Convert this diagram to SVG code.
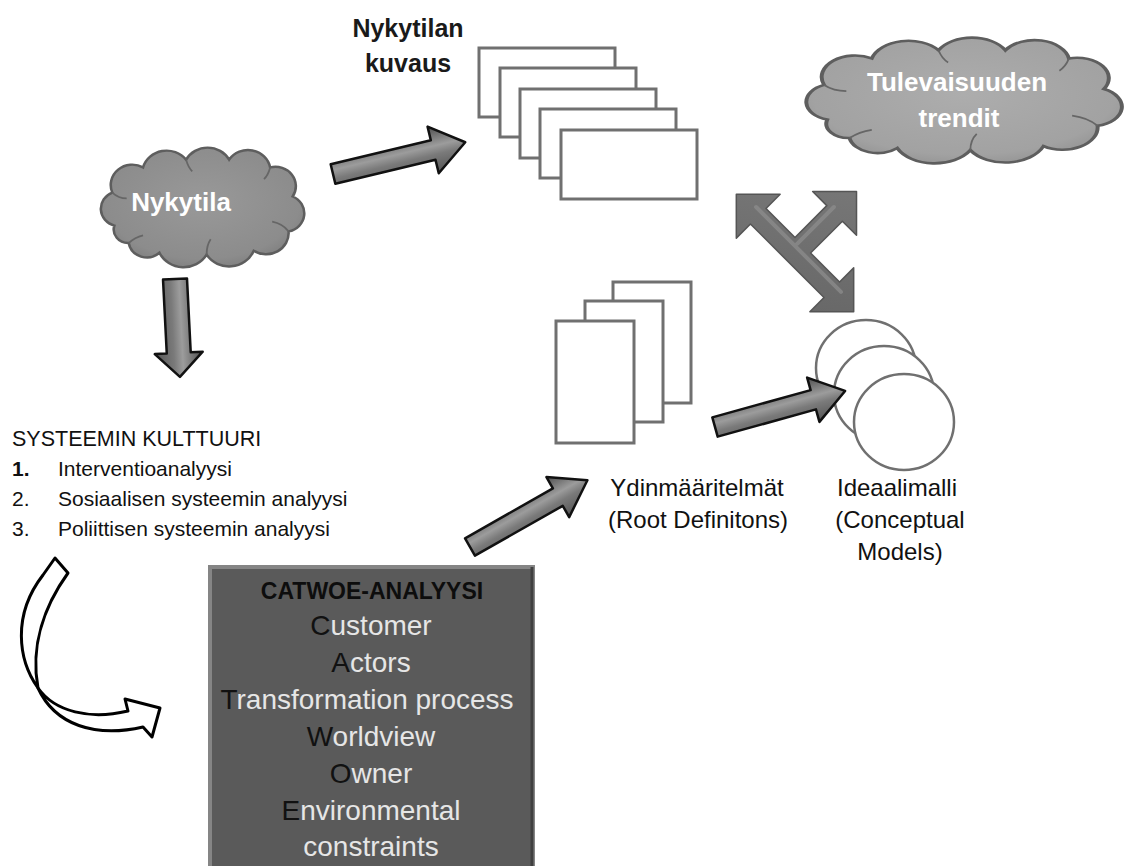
<svg xmlns="http://www.w3.org/2000/svg" width="1126" height="866" viewBox="0 0 1126 866">
  <defs>
    <style>
      .t { font-family: "Liberation Sans", Arial, sans-serif; }
      .b { font-weight: bold; }
      .page { fill: #ffffff; stroke: #707070; stroke-width: 3; }
      .disc { fill: #ffffff; stroke: #707070; stroke-width: 2.5; }
      .fat { fill: url(#fatGrad); stroke: #111111; stroke-width: 2.5; stroke-linejoin: round; }
      .cloud { stroke: #5e5e5e; stroke-width: 2.5; vector-effect: non-scaling-stroke; }
      .crease { fill: none; stroke: #666666; stroke-width: 1.8; vector-effect: non-scaling-stroke; }
      .ribbon { fill: #ffffff; stroke: #000000; stroke-width: 3; stroke-linejoin: round; }
      .lbl { font-size: 24px; fill: #111111; }
      .cw { font-size: 28px; fill: #e6e6e6; }
      .cw tspan.k { fill: #111111; }
    </style>
    <linearGradient id="fatGrad" x1="0" y1="0" x2="0" y2="1">
      <stop offset="0" stop-color="#4e4e4e"/>
      <stop offset="0.42" stop-color="#9c9c9c"/>
      <stop offset="0.6" stop-color="#7a7a7a"/>
      <stop offset="1" stop-color="#555555"/>
    </linearGradient>
    <radialGradient id="cloudDark" cx="0.5" cy="0.45" r="0.6">
      <stop offset="0" stop-color="#999999"/>
      <stop offset="0.8" stop-color="#8c8c8c"/>
      <stop offset="1" stop-color="#7c7c7c"/>
    </radialGradient>
    <radialGradient id="cloudLight" cx="0.5" cy="0.45" r="0.6">
      <stop offset="0" stop-color="#adadad"/>
      <stop offset="0.8" stop-color="#a2a2a2"/>
      <stop offset="1" stop-color="#919191"/>
    </radialGradient>
    <linearGradient id="xGrad" x1="0" y1="0" x2="1" y2="1">
      <stop offset="0" stop-color="#7c7c7c"/>
      <stop offset="1" stop-color="#666666"/>
    </linearGradient>
    <path id="cloudShape" d="M14,80 A18,18 0 0 1 12,46 A21,21 0 0 1 42,20 A24,24 0 0 1 84,12 A24,24 0 0 1 126,12 A22,22 0 0 1 166,20 A20,20 0 0 1 188,50 A19,19 0 0 1 184,86 A22,22 0 0 1 150,106 A26,26 0 0 1 104,110 A26,26 0 0 1 58,108 A18,18 0 0 1 28,98 A14,14 0 0 1 14,80 Z"/>
    <g id="cloudCreases">
      <path class="crease" d="M12,46 Q18,52 26,52"/>
      <path class="crease" d="M84,12 Q86,20 90,24"/>
      <path class="crease" d="M166,20 Q164,28 160,32"/>
      <path class="crease" d="M184,86 Q178,78 168,76"/>
      <path class="crease" d="M104,110 Q104,100 108,94"/>
      <path class="crease" d="M28,98 Q34,92 42,90"/>
    </g>
  </defs>

  <rect width="1126" height="866" fill="#ffffff"/>

  <!-- current state cloud -->
  <g id="nykytila">
    <g transform="translate(100,148) scale(1.025,0.97)">
      <use href="#cloudShape" class="cloud" fill="url(#cloudDark)"/>
      <use href="#cloudCreases"/>
    </g>
    <text class="t b" x="181" y="211" font-size="26" fill="#ffffff" text-anchor="middle">Nykytila</text>
  </g>

  <!-- future trends cloud -->
  <g id="tulevaisuuden-trendit">
    <g transform="translate(805,38) scale(1.59,1.02)">
      <use href="#cloudShape" class="cloud" fill="url(#cloudLight)"/>
      <use href="#cloudCreases"/>
    </g>
    <text class="t b" x="957" y="91" font-size="26" fill="#ffffff" text-anchor="middle">Tulevaisuuden</text>
    <text class="t b" x="959" y="127" font-size="26" fill="#ffffff" text-anchor="middle">trendit</text>
  </g>

  <!-- description of the current state: stacked sheets -->
  <g id="nykytilan-kuvaus">
    <text class="t b" x="408" y="37" font-size="25" fill="#1a1a1a" text-anchor="middle">Nykytilan</text>
    <text class="t b" x="408" y="72" font-size="25" fill="#1a1a1a" text-anchor="middle">kuvaus</text>
    <rect class="page" x="479" y="48" width="136" height="69"/>
    <rect class="page" x="500" y="68" width="136" height="69"/>
    <rect class="page" x="520" y="89" width="136" height="69"/>
    <rect class="page" x="540" y="109" width="136" height="69"/>
    <rect class="page" x="561" y="130" width="136" height="69"/>
  </g>

  <!-- culture of the system -->
  <g id="systeemin-kulttuuri" class="t" fill="#111111">
    <text x="12" y="446" font-size="21.5">SYSTEEMIN KULTTUURI</text>
    <text x="12" y="476" font-size="21" class="b">1.</text>
    <text x="58" y="476" font-size="21">Interventioanalyysi</text>
    <text x="12" y="506" font-size="21">2.</text>
    <text x="58" y="506" font-size="21">Sosiaalisen systeemin analyysi</text>
    <text x="12" y="536" font-size="21">3.</text>
    <text x="58" y="536" font-size="21">Poliittisen systeemin analyysi</text>
  </g>

  <!-- CATWOE box -->
  <g id="catwoe">
    <rect x="210" y="567" width="323" height="303" fill="#5a5a5a" stroke="#858585" stroke-width="4"/>
    <line x1="532" y1="567" x2="532" y2="866" stroke="#404040" stroke-width="3"/>
    <text class="t b" x="372" y="599" font-size="23" fill="#0d0d0d" text-anchor="middle">CATWOE-ANALYYSI</text>
    <text class="t cw" x="371" y="635" text-anchor="middle"><tspan class="k">C</tspan>ustomer</text>
    <text class="t cw" x="371" y="672" text-anchor="middle"><tspan class="k">A</tspan>ctors</text>
    <text class="t cw" x="367" y="709" text-anchor="middle"><tspan class="k">T</tspan>ransformation process</text>
    <text class="t cw" x="371" y="746" text-anchor="middle"><tspan class="k">W</tspan>orldview</text>
    <text class="t cw" x="371" y="783" text-anchor="middle"><tspan class="k">O</tspan>wner</text>
    <text class="t cw" x="371" y="820" text-anchor="middle"><tspan class="k">E</tspan>nvironmental</text>
    <text class="t cw" x="371" y="856" text-anchor="middle">constraints</text>
  </g>

  <!-- root definitions: stacked portrait sheets -->
  <g id="ydinmaaritelmat">
    <rect class="page" x="613" y="282" width="78" height="121"/>
    <rect class="page" x="585" y="301" width="78" height="121"/>
    <rect class="page" x="556" y="321" width="78" height="122"/>
    <text class="t lbl" x="697" y="496" text-anchor="middle">Ydinmääritelmät</text>
    <text class="t lbl" x="698" y="528" text-anchor="middle">(Root Definitons)</text>
  </g>

  <!-- conceptual models: overlapping discs -->
  <g id="ideaalimalli">
    <ellipse class="disc" cx="866" cy="368" rx="50" ry="48"/>
    <ellipse class="disc" cx="884" cy="394" rx="50" ry="48"/>
    <ellipse class="disc" cx="904" cy="422" rx="50" ry="48"/>
    <text class="t lbl" x="897" y="496" text-anchor="middle">Ideaalimalli</text>
    <text class="t lbl" x="900" y="528" text-anchor="middle">(Conceptual</text>
    <text class="t lbl" x="900" y="560" text-anchor="middle">Models)</text>
  </g>

  <!-- connectors -->
  <g id="connectors">
    <!-- Nykytila -> Nykytilan kuvaus -->
    <path class="fat" transform="translate(333,174) rotate(-13.5)" d="M0,-10 L103,-10 L103,-24 L136,0 L103,24 L103,10 L0,10 Z"/>
    <!-- Nykytila -> systeemin kulttuuri -->
    <path class="fat" transform="translate(175,279) rotate(87.1)" d="M0,-12 L74,-12 L74,-24 L98,0 L74,24 L74,12 L0,12 Z"/>
    <!-- CATWOE -> root definitions -->
    <path class="fat" transform="translate(470,547) rotate(-29.6)" d="M0,-10 L101,-10 L101,-23 L135,0 L101,23 L101,10 L0,10 Z"/>
    <!-- root definitions -> conceptual models -->
    <path class="fat" transform="translate(715,427) rotate(-15.5)" d="M0,-10 L102,-10 L102,-23 L135,0 L102,23 L102,10 L0,10 Z"/>
    <!-- three-way arrow between kuvaus, trends and models -->
    <g transform="translate(795,253) rotate(45)">
      <path d="M-83,0 L-52,-31 L-52,-11 L-11,-11 L-11,-56 L-31,-56 L0,-87 L31,-56 L11,-56 L11,-11 L52,-11 L52,-31 L83,0 L52,31 L52,11 L-52,11 L-52,31 Z" fill="url(#xGrad)" stroke="#555555" stroke-width="1.5" stroke-linejoin="round"/>
      <path d="M-60,-5 L60,-5 M-5,-60 L-5,-8" stroke="#8e8e8e" stroke-width="4" stroke-linecap="round" opacity="0.7" fill="none"/>
    </g>
    <!-- curved ribbon arrow: culture -> CATWOE -->
    <path class="ribbon" d="M55,558 L68,573 C45,605 30,645 38,688 C18,660 12,615 43,575 Z"/>
    <path class="ribbon" d="M38,688 C55,712 90,720 128,711 L125,699 L160,708 L152,737 L143,727 C95,738 55,725 38,688 Z"/>
  </g>
</svg>
